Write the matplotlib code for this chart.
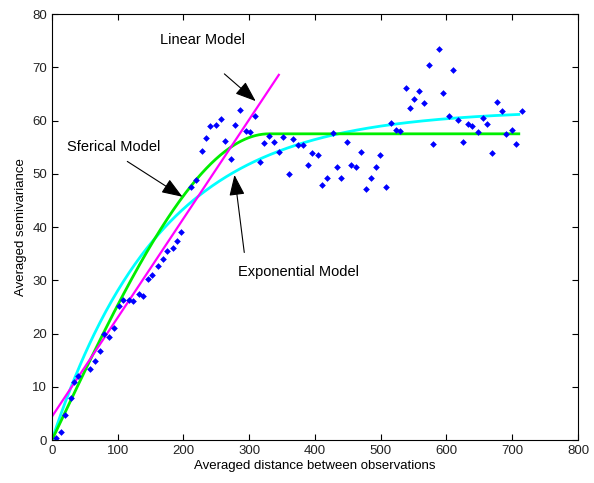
import numpy as np
import matplotlib
matplotlib.use('Agg')
import matplotlib.pyplot as plt

plt.rcParams['font.family'] = ['Liberation Sans', 'DejaVu Sans']

# experimental semivariogram (lag distance, semivariance)
dist = [6, 14, 20, 29, 33, 40, 58, 65, 73, 79, 87, 94,
        102, 108, 117, 123, 132, 138, 146, 152, 161, 169, 175, 184, 190, 196,
        211, 219, 228, 234, 240, 249, 257, 263, 272, 278, 286, 295, 301, 309,
        316, 322, 330, 338, 345, 351, 360, 367, 374, 382, 389, 395, 405, 411,
        418, 427, 433, 440, 449, 455, 462, 470, 478, 485, 493, 499, 508, 516,
        523, 529, 538, 544, 551, 558, 566, 573, 579, 589, 595, 604, 610, 617,
        625, 633, 639, 648, 656, 662, 669, 677, 684, 690, 700, 706, 715]
semivar = [0.4, 1.5, 4.7, 7.9, 10.9, 12.0, 13.3, 14.8, 16.7, 19.9, 19.3, 21.0,
           25.2, 26.3, 26.3, 26.1, 27.4, 27.0, 30.2, 31.0, 32.7, 34.0, 35.5, 36.1, 37.4, 39.1,
           47.5, 48.8, 54.3, 56.7, 59.0, 59.2, 60.3, 56.2, 52.8, 59.2, 62.0, 58.0, 57.8, 60.8,
           52.2, 55.8, 57.1, 56.0, 54.1, 56.9, 50.0, 56.5, 55.4, 55.4, 51.6, 53.9, 53.5, 47.9,
           49.2, 57.7, 51.3, 49.2, 56.0, 51.6, 51.3, 54.1, 47.1, 49.2, 51.3, 53.5, 47.5, 59.5,
           58.2, 58.0, 66.1, 62.3, 64.0, 65.5, 63.3, 70.4, 55.6, 73.4, 65.2, 60.8, 69.5, 60.1,
           56.0, 59.3, 59.0, 57.8, 60.5, 59.3, 53.9, 63.5, 61.8, 57.5, 58.2, 55.6, 61.8]

# fitted model parameters
lin_nugget, lin_slope, lin_max = 4.4, 0.186, 345
sph_sill, sph_range = 57.5, 330
exp_sill, exp_scale = 62.0, 166
h_max = 710

h = np.linspace(0, h_max, 400)
sph = np.where(h < sph_range,
               sph_sill * (1.5 * h / sph_range - 0.5 * (h / sph_range) ** 3),
               sph_sill)
expo = exp_sill * (1 - np.exp(-h / exp_scale))
h_lin = np.linspace(0, lin_max, 50)
lin = lin_nugget + lin_slope * h_lin

fig = plt.figure(figsize=(5.94, 4.83), dpi=100)
ax = fig.add_axes([0.0875, 0.089, 0.8855, 0.882])

ax.plot(h, expo, color='cyan', lw=2)
ax.plot(h, sph, color='#00ee00', lw=2)
ax.plot(h_lin, lin, color='magenta', lw=1.6)
ax.plot(dist, semivar, 'D', color='blue', ms=3.4, mew=0)

ax.set_xlim(0, 800)
ax.set_ylim(0, 80)
ax.set_xticks(range(0, 801, 100))
ax.set_yticks(range(0, 81, 10))
ax.tick_params(direction='in', top=True, right=True, labelsize=9.5, length=4,
               labelcolor='#222222')
ax.set_xlabel('Averaged distance between observations', fontsize=9.5, labelpad=2)
ax.set_ylabel('Averaged semivariance', fontsize=9.5, labelpad=4)

arrow = dict(arrowstyle='-|>,head_length=0.8,head_width=0.3', color='black',
             lw=0.8, mutation_scale=16)
ax.annotate('', xy=(313, 63.3), xytext=(259, 69.1), arrowprops=arrow)
ax.annotate('', xy=(202, 45.4), xytext=(111, 52.6), arrowprops=arrow)
ax.annotate('', xy=(277, 50.3), xytext=(293, 34.7), arrowprops=arrow)
ax.text(164, 75.1, 'Linear Model', fontsize=10.5, va='center')
ax.text(23, 55.0, 'Sferical Model', fontsize=10.5, va='center')
ax.text(283, 31.5, 'Exponential Model', fontsize=10.5, va='center')

fig.savefig('out.png', dpi=100)
